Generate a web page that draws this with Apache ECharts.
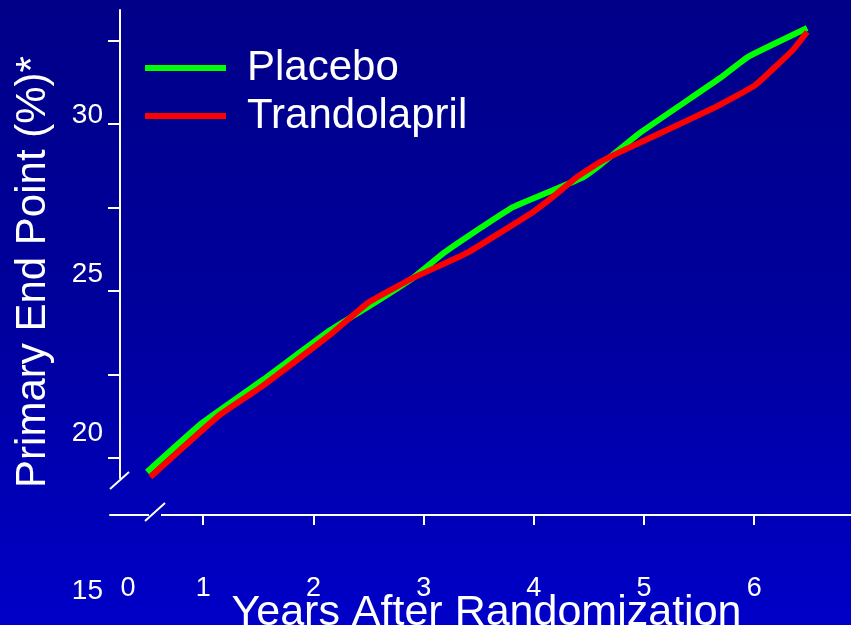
<!DOCTYPE html>
<html>
<head>
<meta charset="utf-8">
<script src="https://cdn.jsdelivr.net/npm/echarts@6/dist/echarts.min.js"></script>
<style>html,body{margin:0;padding:0;overflow:hidden;}#c{width:851px;height:625px;}</style>
</head>
<body>
<div id="c"></div>
<script>
// ---- data ----
const seriesNames = ['Placebo', 'Trandolapril'];
const placeboYears = [0.49, 0.99, 1.54, 2.15, 2.49, 2.90, 3.18, 3.39, 3.81, 4.24, 4.45, 4.60, 4.96, 5.69, 5.94, 6.48];
const placeboValues = [19.57, 21.04, 22.33, 23.82, 24.51, 25.38, 26.13, 26.61, 27.51, 28.11, 28.41, 28.77, 29.73, 31.38, 32.01, 32.88];
const trandolaprilYears = [0.52, 1.15, 1.54, 2.15, 2.49, 2.90, 3.39, 3.99, 4.17, 4.39, 4.60, 4.78, 5.15, 5.63, 6.01, 6.35, 6.48];
const trandolaprilValues = [19.42, 21.28, 22.15, 23.68, 24.63, 25.38, 26.13, 27.36, 27.81, 28.41, 28.86, 29.16, 29.73, 30.48, 31.17, 32.22, 32.76];
const xTickValues = [1, 2, 3, 4, 5, 6];
const xZeroLabel = '0';
const yTickValues = [20, 22.5, 25, 27.5, 30, 32.5];
const yLabelValues = [15, 20, 25, 30];
const xTitle = 'Years After Randomization';
const yTitle = 'Primary End Point (%)*';

// ---- chart ----
const X_MIN = 0.154, X_MAX = 6.878;
const Y_MIN = 19.39, Y_MAX = 33.42;
const FONT = '"Liberation Sans", Arial, sans-serif';
const zip = (xs, ys) => xs.map((x, i) => [x, ys[i]]);
const bgStops = [
  {offset: 0, color: '#000088'},
  {offset: 0.5, color: '#00009c'},
  {offset: 1, color: '#0000c8'}
];

const chart = echarts.init(document.getElementById('c'), null, {renderer: 'canvas'});
const white = '#ffffff';
chart.setOption({
  animation: false,
  backgroundColor: {type: 'linear', x: 0, y: 0, x2: 0, y2: 1, colorStops: bgStops},
  textStyle: {fontFamily: FONT},
  grid: [
    {left: 110, right: 0, top: 10, bottom: 147, outerBoundsMode: 'none', containLabel: false},
    {left: 120, width: 10, top: 19.7, bottom: 33.3, outerBoundsMode: 'none', containLabel: false}
  ],
  legend: {
    orient: 'vertical', left: 145, top: 47, padding: 0, itemWidth: 81, itemHeight: 6, itemGap: 6,
    icon: 'rect', data: seriesNames,
    textStyle: {color: white, fontSize: 42, lineHeight: 42, fontFamily: FONT, padding: [0, 0, 0, 16]}
  },
  xAxis: [
    {
      gridIndex: 0, type: 'value', min: X_MIN, max: X_MAX, offset: 37,
      axisLine: {show: true, onZero: false, lineStyle: {color: white, width: 2}},
      axisTick: {show: true, length: 10, customValues: xTickValues, lineStyle: {color: white, width: 2}},
      axisLabel: {
        customValues: [X_MIN].concat(xTickValues), color: white, fontSize: 27, margin: 60, fontFamily: FONT,
        formatter: v => Math.abs(v - X_MIN) < 1e-6 ? '{z|' + xZeroLabel + '}' : String(v),
        rich: {z: {padding: [0, 0, 0, 36], fontSize: 27, color: white, fontFamily: FONT}}
      },
      splitLine: {show: false},
      name: xTitle, nameLocation: 'middle', nameGap: 77, nameMoveOverlap: false,
      nameTextStyle: {color: white, fontSize: 43, fontFamily: FONT, padding: [0, 0, 0, 12]}
    },
    {gridIndex: 1, type: 'value', show: false, min: 0, max: 1}
  ],
  yAxis: [
    {
      gridIndex: 0, type: 'value', min: Y_MIN, max: Y_MAX, offset: -10,
      axisLine: {show: true, onZero: false, lineStyle: {color: white, width: 2}},
      axisTick: {show: true, length: 12, customValues: yTickValues, lineStyle: {color: white, width: 2}},
      axisLabel: {show: false},
      splitLine: {show: false}
    },
    {
      gridIndex: 1, type: 'value', min: 15, max: 33,
      axisLine: {show: false}, axisTick: {show: false}, splitLine: {show: false},
      axisLabel: {customValues: yLabelValues, color: white, fontSize: 28, margin: 17, fontFamily: FONT}
    }
  ],
  graphic: [
    {type: 'rect', shape: {x: 149, y: 512, width: 12, height: 6}, z: 100,
     style: {fill: {type: 'linear', x: 0, y: 0, x2: 0, y2: 625, global: true, colorStops: bgStops}}},
    {type: 'line', shape: {x1: 110, y1: 489, x2: 129, y2: 472}, z: 101, style: {stroke: white, lineWidth: 2}},
    {type: 'line', shape: {x1: 145, y1: 521, x2: 165, y2: 503}, z: 101, style: {stroke: white, lineWidth: 2}},
    {type: 'text', x: 33, y: 272, rotation: Math.PI / 2, z: 101,
     style: {text: yTitle, fill: white, font: '42px ' + FONT, align: 'center', verticalAlign: 'middle',
             textAlign: 'center', textVerticalAlign: 'middle'}}
  ],
  series: [
    {
      name: seriesNames[0], type: 'line', xAxisIndex: 0, yAxisIndex: 0,
      data: zip(placeboYears, placeboValues), symbol: 'none', smooth: 0.1,
      lineStyle: {color: '#00ff00', width: 6}, itemStyle: {color: '#00ff00'}
    },
    {
      name: seriesNames[1], type: 'line', xAxisIndex: 0, yAxisIndex: 0,
      data: zip(trandolaprilYears, trandolaprilValues), symbol: 'none', smooth: 0.1,
      lineStyle: {color: '#ff0000', width: 6}, itemStyle: {color: '#ff0000'}
    }
  ]
});
</script>
</body>
</html>
